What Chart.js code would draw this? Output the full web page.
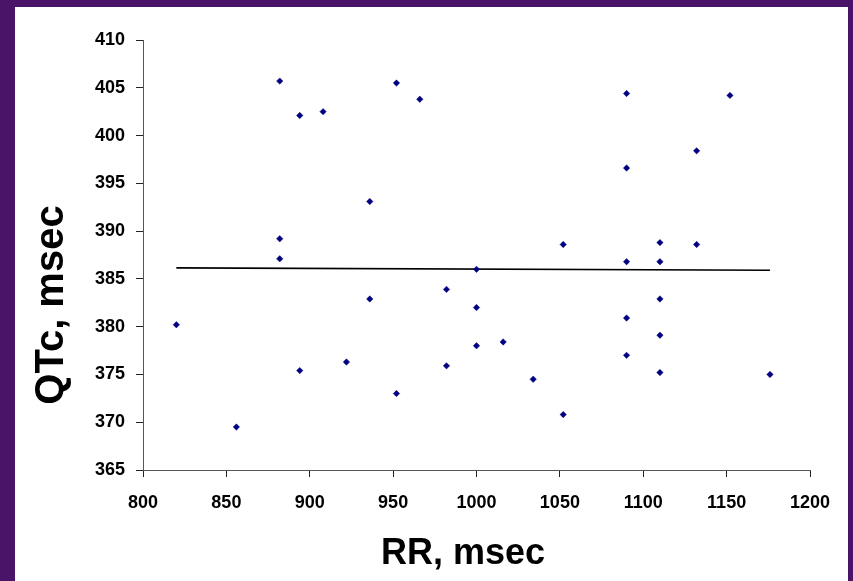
<!DOCTYPE html>
<html>
<head>
<meta charset="utf-8">
<script src="https://cdn.jsdelivr.net/npm/chart.js@4.4.1/dist/chart.umd.min.js"></script>
<style>
  html, body { margin: 0; padding: 0; }
  body { width: 853px; height: 581px; background: #4a1468; position: relative; overflow: hidden; }
  #panel { position: absolute; left: 15px; top: 7px; width: 833px; height: 574px; background: #fff; }
</style>
</head>
<body>
<div id="panel"><canvas id="chart"></canvas></div>
<script>
// RR interval (msec) and corrected QT (msec) per subject
const rrValues = [
  820, 856, 882, 882, 882, 894, 894, 908, 922, 936,
  936, 952, 952, 966, 982, 982, 1000, 1000, 1000, 1016,
  1034, 1052, 1052, 1090, 1090, 1090, 1090, 1090, 1110, 1110,
  1110, 1110, 1110, 1132, 1132, 1152, 1176,
];
const qtcValues = [
  380.2, 369.5, 405.7, 389.2, 387.1, 402.1, 375.4, 402.5, 376.3, 393.1,
  382.9, 405.5, 373.0, 403.8, 383.9, 375.9, 386.0, 382.0, 378.0, 378.4,
  374.5, 388.6, 370.8, 404.4, 396.6, 386.8, 380.9, 377.0, 388.8, 386.8,
  382.9, 379.1, 375.2, 398.4, 388.6, 404.2, 375.0,
];

// linear trend line end points
const trendRR = [820, 1176];
const trendQTc = [386.15, 385.9];

const xTicks = [800, 850, 900, 950, 1000, 1050, 1100, 1150, 1200];
const yTicks = [365, 370, 375, 380, 385, 390, 395, 400, 405, 410];

const xTitle = 'RR, msec';
const yTitle = 'QTc, msec';

const FONT = '"Liberation Sans", Arial, sans-serif';

// draws both axis titles next to the plot area
const axisTitles = {
  id: 'axisTitles',
  afterDraw(chart) {
    const { ctx, chartArea } = chart;
    ctx.save();
    ctx.fillStyle = '#000';
    ctx.textAlign = 'center';
    ctx.textBaseline = 'alphabetic';
    ctx.font = 'bold 36px ' + FONT;
    ctx.fillText(xTitle, chartArea.left + 320, chartArea.bottom + 94);
    ctx.font = 'bold 40px ' + FONT;
    ctx.translate(chartArea.left - 80, chartArea.top + 265);
    ctx.rotate(-Math.PI / 2);
    ctx.fillText(yTitle, 0, 0);
    ctx.restore();
  },
};

const points = rrValues.map((x, i) => ({ x, y: qtcValues[i] }));
const trend = trendRR.map((x, i) => ({ x, y: trendQTc[i] }));

const tickFont = { family: FONT, size: 18, weight: 'bold' };

new Chart(document.getElementById('chart'), {
  type: 'scatter',
  data: {
    datasets: [
      {
        data: points,
        pointStyle: 'rectRot',
        pointRadius: 3.2,
        backgroundColor: '#000080',
        borderColor: '#000080',
        borderWidth: 0.5,
      },
      {
        type: 'line',
        data: trend,
        showLine: true,
        borderColor: '#000',
        borderWidth: 1.6,
        pointRadius: 0,
        fill: false,
      },
    ],
  },
  options: {
    responsive: true,
    maintainAspectRatio: false,
    animation: false,
    layout: { padding: { top: 33, right: 38, left: 0, bottom: 0 } },
    plugins: {
      legend: { display: false },
      tooltip: { enabled: false },
    },
    scales: {
      x: {
        type: 'linear',
        min: 800,
        max: 1200,
        afterBuildTicks: (scale) => { scale.ticks = xTicks.map((v) => ({ value: v })); },
        afterFit: (scale) => { scale.height = 111; },
        grid: { drawOnChartArea: false, drawTicks: true, tickLength: 7, color: '#222' },
        border: { display: true, color: '#555', width: 1 },
        ticks: { color: '#000', padding: 15, font: tickFont, callback: (v) => String(v) },
      },
      y: {
        type: 'linear',
        min: 365,
        max: 410,
        afterBuildTicks: (scale) => { scale.ticks = yTicks.map((v) => ({ value: v })); },
        afterFit: (scale) => { scale.width = 128; },
        grid: { drawOnChartArea: false, drawTicks: true, tickLength: 7, color: '#222' },
        border: { display: true, color: '#555', width: 1 },
        ticks: { color: '#000', padding: 11, font: tickFont, callback: (v) => String(v) },
      },
    },
  },
  plugins: [axisTitles],
});
</script>
</body>
</html>
